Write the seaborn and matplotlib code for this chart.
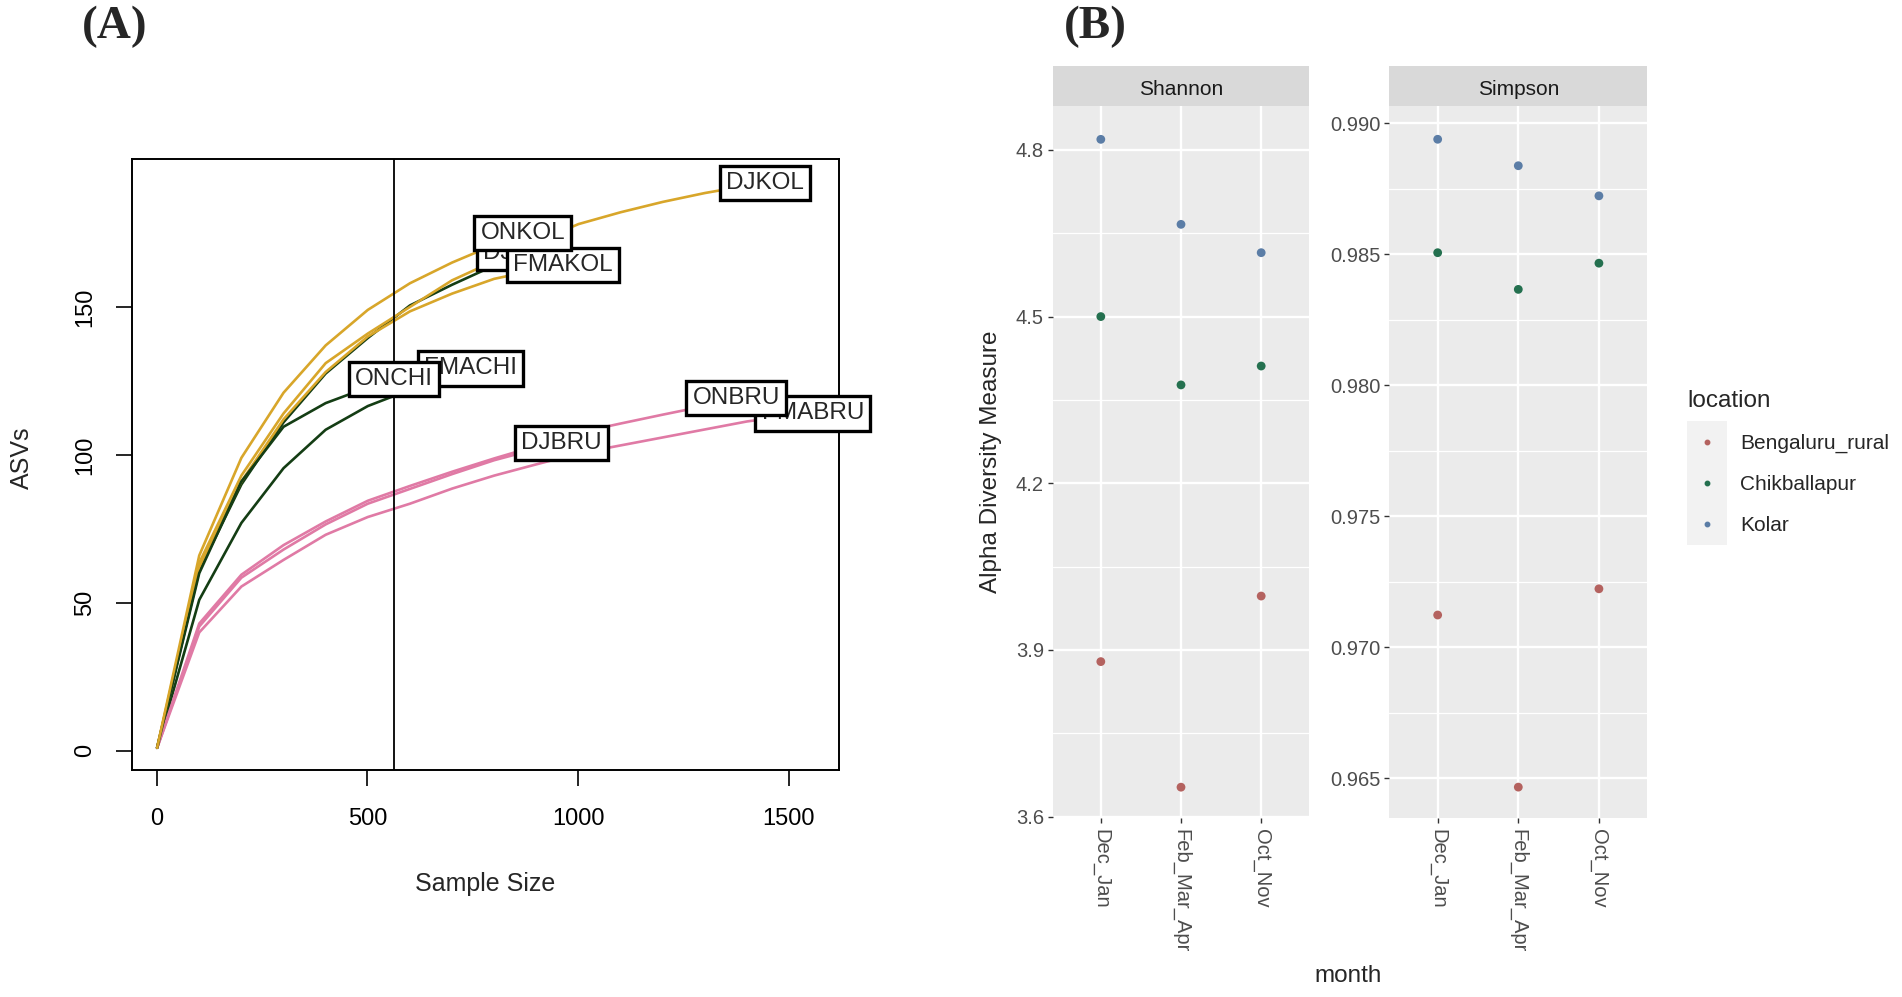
import numpy as np
import pandas as pd
import matplotlib
matplotlib.use("Agg")
import matplotlib.pyplot as plt
import seaborn as sns
from matplotlib.lines import Line2D
from matplotlib.patches import Rectangle
from matplotlib.ticker import AutoMinorLocator, FormatStrFormatter

sns.set_style("white")
plt.rcParams['font.family'] = ['Liberation Sans', 'DejaVu Sans']

W, H = 1902, 997

# ---------------- panel A : rarefaction curves ----------------
grid_n = [1, 101, 201, 301, 401, 501, 601, 701, 801, 901, 1001, 1101, 1201, 1301, 1401, 1501]
samples = ["DJBRU", "DJCHI", "DJKOL", "FMABRU", "FMACHI", "FMAKOL", "ONBRU", "ONCHI", "ONKOL"]
sites = ["BRU", "CHI", "KOL", "BRU", "CHI", "KOL", "BRU", "CHI", "KOL"]
depth = [960, 860, 1444, 1557, 745, 964, 1375, 563, 869]

asv_djbru = [1, 42, 58.5, 68, 76.5, 83.5, 88.5, 93.5, 98.2, 102, 104.0]
asv_djchi = [1, 61, 90, 111, 127.5, 139.5, 150.5, 157.5, 164, 168.1]
asv_djkol = [1, 63.5, 93, 114, 131, 141, 150, 159, 165.5, 172, 178, 182, 185.5, 188.5, 191, 192.0]
asv_fmabru = [1, 40, 55.5, 64.5, 73, 79, 83.5, 88.6, 93, 96.8, 100.5, 103.2, 105.9, 108.6, 111.3, 113.2, 114.0]
asv_fmachi = [1, 51, 77, 95.5, 108.5, 116.5, 122, 127, 129.2]
asv_fmakol = [1, 62, 91, 112, 128, 140, 148.5, 154.5, 159.5, 162.5, 164.2]
asv_onbru = [1, 43, 59.5, 69.5, 77.5, 84.5, 89.5, 94.3, 98.8, 103, 107.5, 110.6, 113.6, 116.5, 119.2]
asv_onchi = [1, 60, 91, 109.5, 117.5, 122.8, 125.7]
asv_onkol = [1, 66, 99, 121, 137, 149, 158, 165, 171, 174.9]
asv_all = [asv_djbru, asv_djchi, asv_djkol, asv_fmabru, asv_fmachi,
           asv_fmakol, asv_onbru, asv_onchi, asv_onkol]

site_colors = {"BRU": "#E07AA5", "CHI": "#143D14", "KOL": "#D8A62A"}

rows = []
for s, st, n_max, ys in zip(samples, sites, depth, asv_all):
    xs = [n for n in grid_n if n < n_max] + [n_max]
    for x, y in zip(xs, ys):
        rows.append({"sample": s, "site": st, "n": x, "asv": y})
curves = pd.DataFrame(rows)

# ---------------- panel B : alpha diversity ----------------
months = ["Dec_Jan", "Feb_Mar_Apr", "Oct_Nov"]
locations = ["Bengaluru_rural", "Chikballapur", "Kolar"]
shannon_bru = [3.879, 3.653, 3.997]
shannon_chi = [4.500, 4.377, 4.411]
shannon_kol = [4.819, 4.666, 4.615]
simpson_bru = [0.97123, 0.96466, 0.97223]
simpson_chi = [0.98506, 0.98366, 0.98466]
simpson_kol = [0.98939, 0.98838, 0.98723]

loc_colors = {"Bengaluru_rural": "#B4625F", "Chikballapur": "#24704F", "Kolar": "#5B7DA6"}

brows = []
for metric, vals in [("Shannon", [shannon_bru, shannon_chi, shannon_kol]),
                     ("Simpson", [simpson_bru, simpson_chi, simpson_kol])]:
    for i, m in enumerate(months):
        for loc, v in zip(locations, vals):
            brows.append({"metric": metric, "month": m, "location": loc, "value": v[i]})
alpha = pd.DataFrame(brows)

fig = plt.figure(figsize=(W / 100, H / 100), dpi=100)


def box(l, t, r, b):
    return [l / W, 1 - b / H, (r - l) / W, (b - t) / H]


# ---- panel A
axA = fig.add_axes(box(131.7, 159.3, 839.3, 770))
pal = {s: site_colors[st] for s, st in zip(samples, sites)}
sns.lineplot(data=curves, x="n", y="asv", hue="sample", palette=pal, estimator=None,
             sort=False, legend=False, linewidth=1.9, ax=axA)
axA.axvline(min(depth), color="black", lw=1.3)
for i, (s, n_max, ys) in enumerate(zip(samples, depth, asv_all)):
    axA.text(n_max, ys[-1], s, ha="center", va="center", fontsize=17.5, zorder=10 + i,
             clip_on=False,
             bbox=dict(boxstyle="square,pad=0.25", fc="white", ec="black", lw=2.4))
axA.set_xlim(-59.3, 1620)
axA.set_ylim(-6.5, 199.9)
axA.set_xticks([0, 500, 1000, 1500])
axA.set_yticks([0, 50, 100, 150])
axA.tick_params(direction="out", length=11.5, width=1.2, labelsize=17, colors="black",
                bottom=True, left=True)
axA.tick_params(axis="x", pad=16)
axA.tick_params(axis="y", pad=14)
for lab in axA.get_yticklabels():
    lab.set_rotation(90)
    lab.set_va("center")
for sp in axA.spines.values():
    sp.set_color("black")
    sp.set_linewidth(1.4)
axA.set_xlabel("")
axA.set_ylabel("")
fig.text(485 / W, 1 - 884 / H, "Sample Size", fontsize=18, ha="center", va="center")
fig.text(22 / W, 1 - 458 / H, "ASVs", fontsize=18, ha="center", va="center", rotation=90)
fig.text(115 / W, 1 - 27 / H, "(A)", family="Liberation Serif", fontweight="bold",
         fontsize=34, ha="center", va="center")

# ---- panel B
panels = [("Shannon", 1052.7, 1309.3, (3.597, 4.879), [3.6, 3.9, 4.2, 4.5, 4.8], "%.1f"),
          ("Simpson", 1389.3, 1647.3, (0.96347, 0.99066),
           [0.965, 0.970, 0.975, 0.980, 0.985, 0.990], "%.3f")]
for metric, l, r, ylim, ticks, fmt in panels:
    ax = fig.add_axes(box(l, 106, r, 818.3))
    ax.set_facecolor("#EBEBEB")
    sns.scatterplot(data=alpha[alpha["metric"] == metric], x="month", y="value",
                    hue="location", palette=loc_colors, s=40, linewidth=0,
                    legend=False, ax=ax, zorder=3)
    ax.set_xlim(-0.6, 2.6)
    ax.set_ylim(*ylim)
    ax.set_yticks(ticks)
    ax.yaxis.set_major_formatter(FormatStrFormatter(fmt))
    ax.yaxis.set_minor_locator(AutoMinorLocator(2))
    ax.grid(which="major", color="white", lw=1.7)
    ax.grid(which="minor", axis="y", color="white", lw=0.9)
    ax.set_axisbelow(True)
    for sp in ax.spines.values():
        sp.set_visible(False)
    ax.tick_params(which="major", direction="out", length=3.8, width=1.0,
                   color="#333333", labelcolor="#4D4D4D", labelsize=14.5, pad=2.5,
                   bottom=True, left=True)
    ax.tick_params(which="minor", length=0)
    ax.tick_params(axis="x", pad=4)
    for lab in ax.get_xticklabels():
        lab.set_rotation(-90)
        lab.set_ha("center")
        lab.set_va("top")
    ax.set_xlabel("")
    ax.set_ylabel("")
    strip = fig.add_axes(box(l, 66, r, 106))
    strip.set_facecolor("#D9D9D9")
    strip.set_xticks([])
    strip.set_yticks([])
    for sp in strip.spines.values():
        sp.set_visible(False)
    strip.text(0.5, 0.42, metric, ha="center", va="center", fontsize=15,
               color="#1A1A1A", transform=strip.transAxes)

fig.text(991 / W, 1 - 462 / H, "Alpha Diversity Measure", fontsize=17.5,
         ha="center", va="center", rotation=90)
fig.text(1348 / W, 1 - 976 / H, "month", fontsize=17.5, ha="center", va="center")
fig.text(1095 / W, 1 - 27 / H, "(B)", family="Liberation Serif", fontweight="bold",
         fontsize=34, ha="center", va="center")

# legend
fig.add_artist(Rectangle((1686.7 / W, 1 - 545 / H), 40 / W, 124 / H,
                         transform=fig.transFigure, fc="#F2F2F2", ec="none", zorder=0))
handles = [Line2D([], [], marker="o", ls="", color=loc_colors[k], markersize=3.2)
           for k in locations]
leg = fig.legend(handles, locations, title="location", loc="upper left",
                 bbox_to_anchor=(1686.9 / W, 1 - 390 / H), frameon=False, fontsize=15,
                 title_fontsize=17.5, handlelength=1.9, handletextpad=0.65,
                 labelspacing=1.05, borderpad=0, borderaxespad=0)
leg._legend_box.align = "left"

fig.savefig("out.png", dpi=100, facecolor="white")
